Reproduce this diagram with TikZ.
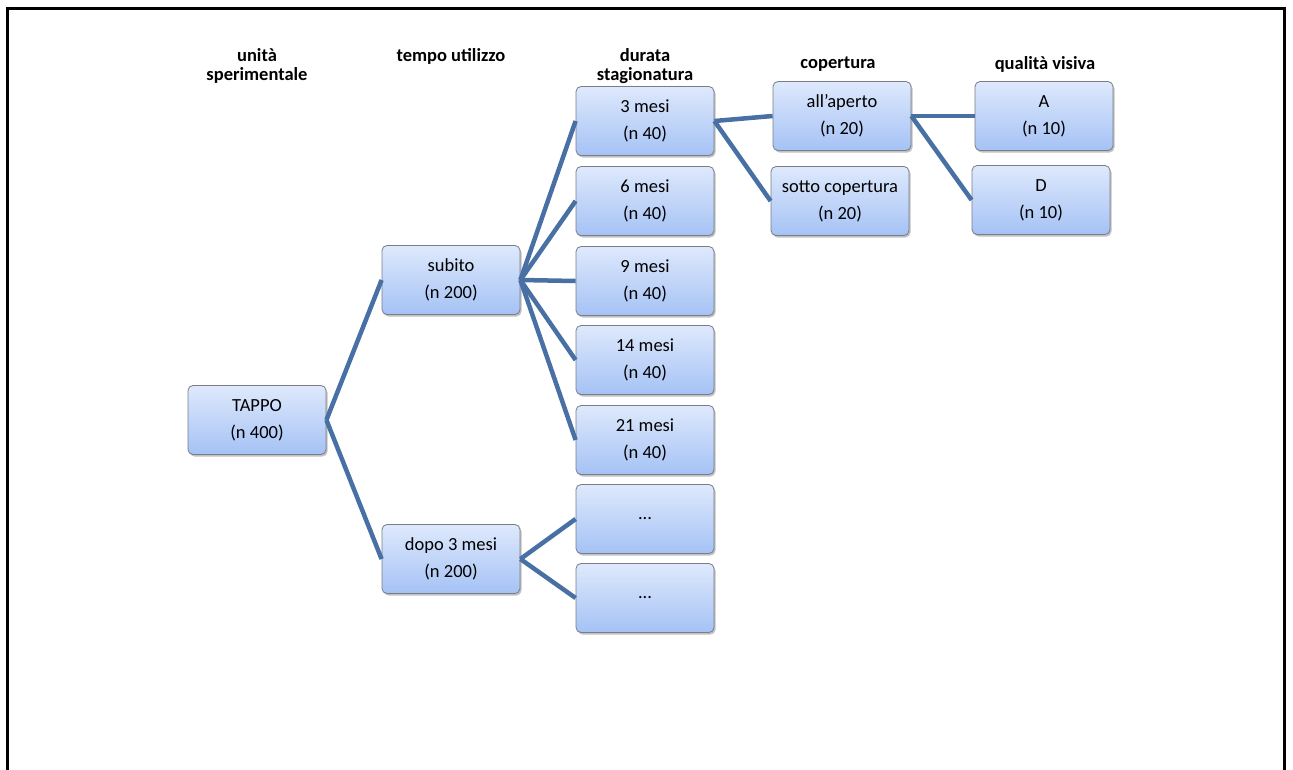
\documentclass[tikz,border=0pt]{standalone}
\usepackage{fontspec}
\setmainfont{Carlito}
\usetikzlibrary{shadows}
\definecolor{linkblue}{RGB}{72,112,165}
\definecolor{boxtop}{RGB}{222,233,252}
\definecolor{boxbot}{RGB}{165,194,245}
\definecolor{boxborder}{RGB}{120,125,135}
\tikzset{
  box/.style={rectangle, rounded corners=5pt, draw=boxborder, line width=0.8pt,
    top color=boxtop, bottom color=boxbot, minimum width=138pt, minimum height=69pt,
    align=center, font=\fontsize{18.5}{27}\selectfont, inner sep=0pt,
    drop shadow={shadow xshift=1.5pt, shadow yshift=-2pt, opacity=0.35, fill=black!70}},
  hdr/.style={align=center, font=\fontsize{18.5}{19}\selectfont\bfseries, inner sep=0pt},
  link/.style={draw=linkblue, line width=4.5pt},
  frame/.style={draw=black, line width=3pt}
}
\begin{document}
\begin{tikzpicture}[x=1pt, y=-1pt]
\useasboundingbox (0,0) rectangle (1293,769);
\begin{scope}
\clip (0,0) rectangle (1293,769);
\draw[frame] (7,780) -- (7,8) -- (1284,8) -- (1284,780);
\end{scope}
% headers
\node[hdr] (h1) at (257,66) {unità\\sperimentale};
\node[hdr] (h2) at (451,56) {tempo utilizzo};
\node[hdr] (h3) at (645,66) {durata\\stagionatura};
\node[hdr] (h4) at (838,64) {copertura};
\node[hdr] (h5) at (1045,64) {qualità visiva};
% boxes
\node[box] (tappo) at (257,420) {TAPPO\\(n 400)};
\node[box] (subito) at (451,280) {subito\\(n 200)};
\node[box] (dopo) at (451,559) {dopo 3 mesi\\(n 200)};
\node[box] (m3) at (645,121) {3 mesi\\(n 40)};
\node[box] (m6) at (645,201) {6 mesi\\(n 40)};
\node[box] (m9) at (645,281) {9 mesi\\(n 40)};
\node[box] (m14) at (645,360) {14 mesi\\(n 40)};
\node[box] (m21) at (645,440) {21 mesi\\(n 40)};
\node[box] (e1) at (645,519) {...};
\node[box] (e2) at (645,598) {...};
\node[box] (aperto) at (842,116) {all'aperto\\(n 20)};
\node[box] (sotto) at (840,201) {sotto copertura\\(n 20)};
\node[box] (qa) at (1044,116) {A\\(n 10)};
\node[box] (qd) at (1041,200) {D\\(n 10)};
% links
\draw[link] (tappo.east) -- (subito.west);
\draw[link] (tappo.east) -- (dopo.west);
\foreach \n in {m3,m6,m9,m14,m21} \draw[link] (subito.east) -- (\n.west);
\draw[link] (dopo.east) -- (e1.west);
\draw[link] (dopo.east) -- (e2.west);
\draw[link] (m3.east) -- (aperto.west);
\draw[link] (m3.east) -- (sotto.west);
\draw[link] (aperto.east) -- (qa.west);
\draw[link] (aperto.east) -- (qd.west);
\end{tikzpicture}
\end{document}
